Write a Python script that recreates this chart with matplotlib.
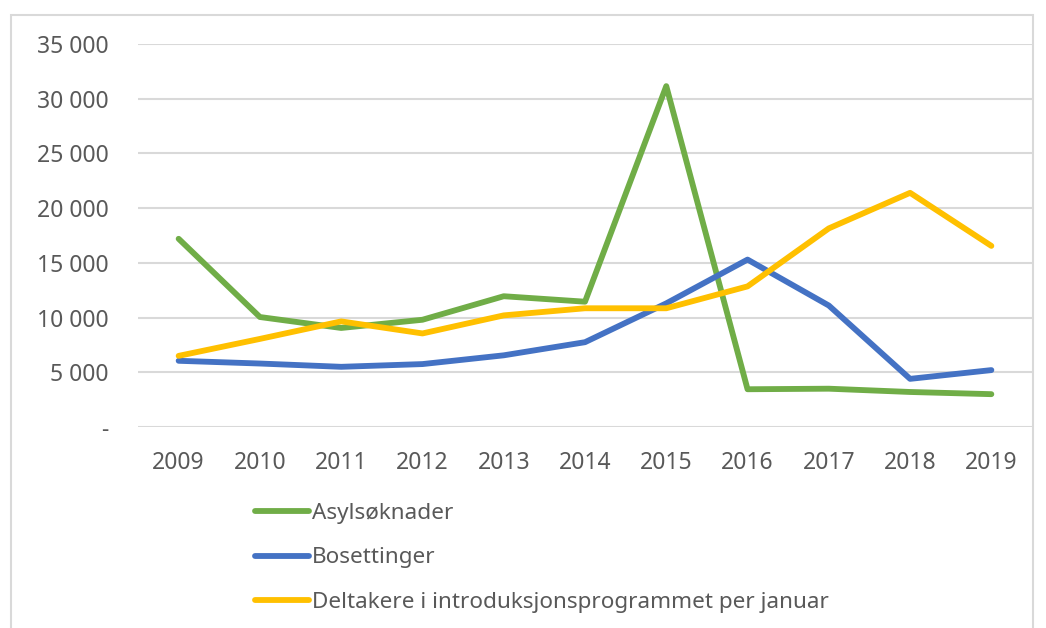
import matplotlib.pyplot as plt
from matplotlib.patches import Rectangle

years = ["2009", "2010", "2011", "2012", "2013", "2014", "2015", "2016", "2017", "2018", "2019"]
asylsoknader = [17200, 10050, 9050, 9800, 11950, 11450, 31150, 3450, 3500, 3200, 3000]
bosettinger = [6050, 5800, 5500, 5750, 6550, 7750, 11300, 15300, 11100, 4400, 5200]
deltakere = [6500, 8050, 9650, 8550, 10200, 10850, 10850, 12850, 18150, 21400, 16550]

series_names = ["Asylsøknader", "Bosettinger", "Deltakere i introduksjonsprogrammet per januar"]
colors = ["#70AD47", "#4472C4", "#FFC000"]

W, H = 1046, 628
plt.rcParams['font.family'] = ['Noto Sans', 'DejaVu Sans']
text_col = "#595959"

fig = plt.figure(figsize=(W / 100, H / 100), dpi=100)
ax = fig.add_axes([138 / W, 1 - 427 / H, (1032 - 138) / W, (427 - 44) / H])

x = range(len(years))
for vals, name, c in zip([asylsoknader, bosettinger, deltakere], series_names, colors):
  ax.plot(x, vals, color=c, lw=4.2, label=name, solid_capstyle='round', solid_joinstyle='round')

ax.set_xlim(-0.5, len(years) - 0.5)
ax.set_ylim(0, 35000)
ax.set_yticks(range(0, 35001, 5000))
ax.set_yticklabels(["-" if v == 0 else f"{v:,}".replace(",", " ") for v in range(0, 35001, 5000)])
ax.set_xticks(list(x))
ax.set_xticklabels(years)
ax.grid(axis='y', color="#d9d9d9", lw=1.5)
ax.set_axisbelow(True)
for s in ax.spines.values():
  s.set_visible(False)
ax.tick_params(axis='both', length=0, labelsize=16.5, labelcolor=text_col)
ax.tick_params(axis='y', pad=21)
ax.tick_params(axis='x', pad=17.5)

# outer chart border
fig.patches.append(Rectangle((11 / W, -0.1), (1033 - 11) / W, 1.1 - 15 / H, transform=fig.transFigure,
                             fill=False, edgecolor="#d9d9d9", lw=1.5))

fig.legend(loc='upper left', bbox_to_anchor=(255 / W, 1 - 503 / H), frameon=False,
           fontsize=16.2, labelcolor=text_col, handlelength=2.4, handletextpad=0.13,
           labelspacing=1.04, borderpad=0, borderaxespad=0)

fig.savefig("out.png", dpi=100)
